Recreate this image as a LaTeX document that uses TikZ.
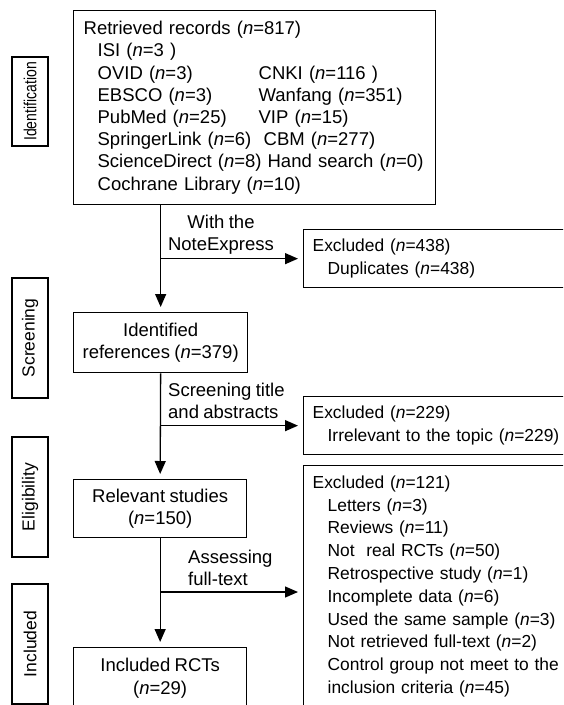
\documentclass[tikz,border=0pt]{standalone}
\usepackage{graphicx}
\usepackage{fontspec}
\setmainfont{Liberation Sans}[WordSpace=0.85]
\usetikzlibrary{arrows.meta}
\newcommand{\nvar}{\textit{n}}
\newcommand{\srcrow}[2]{\hspace*{14pt}\makebox[161pt][l]{#1}#2}

\begin{document}
\begin{tikzpicture}[x=1pt,y=-1pt,
  font=\fontsize{18.5}{22.2}\selectfont,
  box/.style={draw, line width=1.3pt, inner sep=0pt},
  stage/.style={box, rotate=90, minimum height=36pt, font=\fontsize{17.5}{21}\selectfont},
  excl/.style={box, anchor=north west, minimum width=318pt, text width=300pt,
               inner xsep=9pt, align=left, font=\fontsize{17.4}{22.8}\selectfont},
  arr/.style={line width=1.3pt, -{Triangle[length=13pt,width=11pt]}, shorten >=5pt},
  lbl/.style={inner sep=0pt}]

\useasboundingbox (0,0) rectangle (563,705);
\clip (0,0) rectangle (563,705);

% Stage labels on the left
\node[stage, minimum width=89pt] (sId) at (30,101.5) {\scalebox{0.8}[1]{Identification}};
\node[stage, minimum width=120pt] (sScr) at (30,338) {Screening};
\node[stage, minimum width=120pt] (sElig) at (30,497) {Eligibility};
\node[stage, minimum width=120pt] (sInc) at (30,644) {Included};

% Main column
\node[box, anchor=north west, minimum width=362pt, minimum height=194pt,
      text width=342pt, inner xsep=10pt, align=left] (records) at (73,10) {%
  Retrieved records (\nvar=817)\\
  \hspace*{14pt}ISI (\nvar=3 )\\
  \srcrow{OVID (\nvar=3)}{CNKI (\nvar=116 )}\\
  \srcrow{EBSCO (\nvar=3)}{Wanfang (\nvar=351)}\\
  \srcrow{PubMed (\nvar=25)}{VIP (\nvar=15)}\\
  \hspace*{14pt}\makebox[166pt][l]{SpringerLink (\nvar=6)}CBM (\nvar=277)\\
  \hspace*{14pt}\makebox[170pt][l]{ScienceDirect (\nvar=8)}\makebox[0pt][l]{Hand search (\nvar=0)}\\
  \hspace*{14pt}Cochrane Library (\nvar=10)};
\node[box, anchor=north west, minimum width=174pt, minimum height=60pt, align=center] (ident) at (73,312) {Identified\\references (\nvar=379)};
\node[box, anchor=north west, minimum width=173pt, minimum height=58pt, align=center] (relev) at (73,479) {Relevant studies\\(\nvar=150)};
\node[box, anchor=north west, minimum width=173pt, minimum height=61pt, align=center] (incl) at (73,647) {Included RCTs\\(\nvar=29)};

% Excluded boxes
\node[excl, minimum height=58pt] (excl1) at (303,229) {%
  Excluded (\nvar=438)\\
  \hspace*{15pt}Duplicates (\nvar=438)};
\node[excl, minimum height=58pt] (excl2) at (303,396) {%
  Excluded (\nvar=229)\\
  \hspace*{15pt}Irrelevant to the topic (\nvar=229)};
\node[excl, inner ysep=10pt, text depth=221pt] (excl3) at (303,465) {%
  Excluded (\nvar=121)\\
  \hspace*{15pt}Letters (\nvar=3)\\
  \hspace*{15pt}Reviews (\nvar=11)\\
  \hspace*{15pt}Not\ \ real RCTs (\nvar=50)\\
  \hspace*{15pt}Retrospective study (\nvar=1)\\
  \hspace*{15pt}Incomplete data (\nvar=6)\\
  \hspace*{15pt}Used the same sample (\nvar=3)\\
  \hspace*{15pt}Not retrieved full-text (\nvar=2)\\
  \hspace*{15pt}Control group not meet to the\\
  \hspace*{15pt}inclusion criteria (\nvar=45)};

% Step labels
\node[lbl, align=center] (noteexp) at (221,235) {With the\\NoteExpress};
\node[lbl, align=left, anchor=west] (scrtitle) at (168,401) {Screening title\\and abstracts};
\node[lbl, align=left, anchor=west] (assess) at (188,568) {Assessing\\full-text};

% Arrows
\draw[arr] (records.south -| ident.north) -- (ident.north);
\coordinate (j1) at (ident.north |- excl1.west);
\draw[arr] (j1) -- (excl1.west);
\draw[arr] (ident.south) -- (relev.north);
\coordinate (j2) at (ident.south |- excl2.west);
\draw[arr] (j2) -- (excl2.west);
\draw[arr] (relev.south) -- (incl.north);
\coordinate (j3) at (160,592);
\draw[arr] (j3) -- (j3 -| excl3.west);
\end{tikzpicture}
\end{document}
